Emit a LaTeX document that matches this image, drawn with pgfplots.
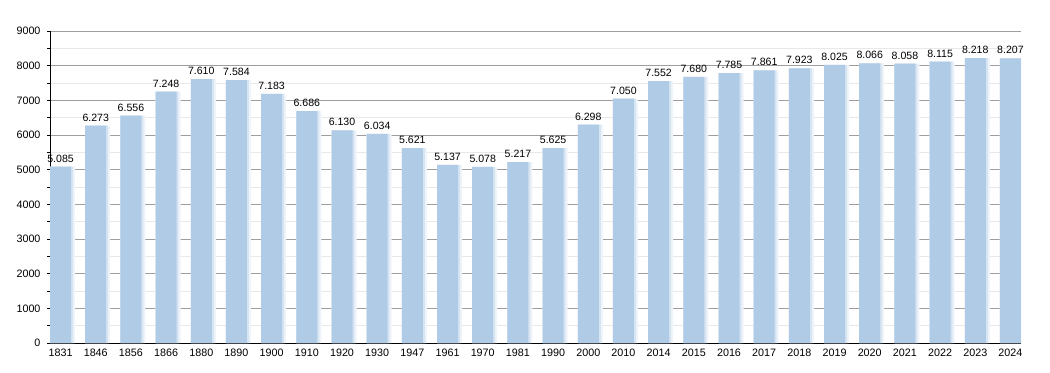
\documentclass[border=0pt]{standalone}
\usepackage{fontspec}
\setmainfont{Liberation Sans}
\usepackage{pgfplots}
\usepackage{pgfplotstable}
\pgfplotsset{compat=1.18}
\definecolor{barblue}{RGB}{176,203,230}
\pgfplotstableread{
x y label
0 5085 5.085
1 6273 6.273
2 6556 6.556
3 7248 7.248
4 7610 7.610
5 7584 7.584
6 7183 7.183
7 6686 6.686
8 6130 6.130
9 6034 6.034
10 5621 5.621
11 5137 5.137
12 5078 5.078
13 5217 5.217
14 5625 5.625
15 6298 6.298
16 7050 7.050
17 7552 7.552
18 7680 7.680
19 7785 7.785
20 7861 7.861
21 7923 7.923
22 8025 8.025
23 8066 8.066
24 8058 8.058
25 8115 8.115
26 8218 8.218
27 8207 8.207
}\pop
\begin{document}
\begin{tikzpicture}
\useasboundingbox (-50bp,-30bp) rectangle (1000bp,343bp);
\begin{axis}[
  scale only axis, width=971bp, height=312bp,
  xmin=-0.3, xmax=27.3, ymin=0, ymax=9000,
  axis lines*=left,
  axis line style={black, line width=0.8bp},
  ybar,
  ytick={0,1000,...,9000},
  minor y tick num=1,
  ymajorgrids, yminorgrids,
  major grid style={draw=black!38, line width=0.7bp},
  minor grid style={draw=black!9, line width=0.7bp},
  tick align=outside,
  major tick length=3bp, minor tick length=3bp,
  tick style={black, line width=0.6bp},
  xtick={0,...,27},
  xticklabels={1831,1846,1856,1866,1880,1890,1900,1910,1920,1930,1947,1961,1970,1981,1990,2000,2010,2014,2015,2016,2017,2018,2019,2020,2021,2022,2023,2024},
  x tick style={draw=none},
  ticklabel style={font=\fontsize{10.8}{12}\selectfont},
  /pgf/number format/assume math mode=true,
  /pgf/number format/1000 sep={},
  yticklabel style={xshift=-3bp},
  xticklabel style={yshift=1bp},
]
\addplot[fill=barblue!22, draw=none, bar width=25bp, bar shift=2bp] table[x=x,y=y] {\pop};
\addplot[fill=barblue!50, draw=none, bar width=23bp, bar shift=1bp] table[x=x,y=y] {\pop};
\addplot[fill=barblue, draw=none, bar width=21bp, bar shift=0bp,
  point meta=explicit symbolic,
  nodes near coords,
  nodes near coords style={font=\fontsize{10.6}{12}\selectfont, anchor=base, yshift=4.5bp, black, inner sep=0pt}
] table[x=x,y=y,meta=label] {\pop};
\end{axis}
\end{tikzpicture}
\end{document}
